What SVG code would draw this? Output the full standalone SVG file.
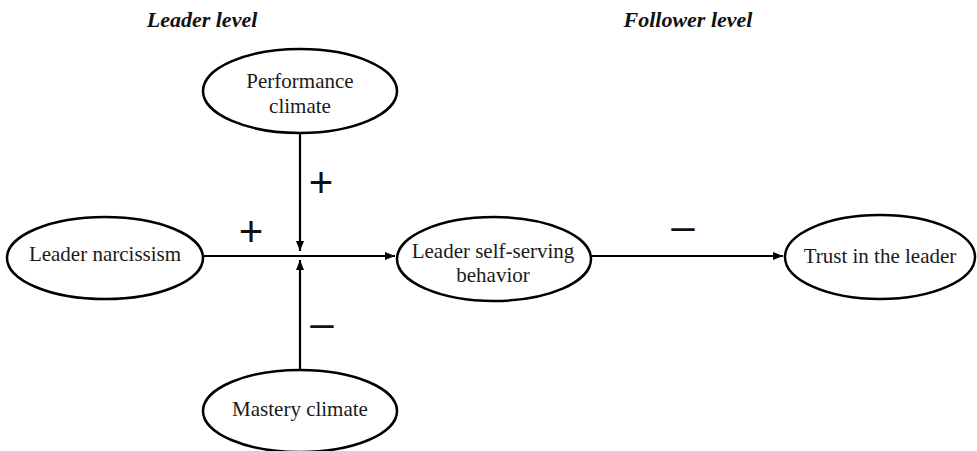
<svg xmlns="http://www.w3.org/2000/svg" width="977" height="451" viewBox="0 0 977 451">
<style>
.node ellipse{fill:#fff;stroke:#000;stroke-width:2.5}
.lbl{font-family:'Liberation Serif','Times New Roman',Tinos,'DejaVu Serif',serif;font-size:21px;fill:#1a1a1a;text-anchor:middle}
.head{font-family:'Liberation Serif','Times New Roman',Tinos,'DejaVu Serif',serif;font-size:22px;font-weight:bold;font-style:italic;fill:#111;text-anchor:middle}
.sign{font-family:'Liberation Sans',Arial,sans-serif;font-size:42px;fill:#111;text-anchor:middle}
#connectors line{stroke:#000;stroke-width:2.2;fill:none}
</style>
<defs>
<marker id="arr" viewBox="0 0 10 10" refX="10" refY="5" markerWidth="10" markerHeight="10" markerUnits="userSpaceOnUse" orient="auto">
<path d="M0,1 L10,5 L0,9 Z" fill="#000"/>
</marker>
</defs>
<rect width="977" height="451" fill="#fff"/>
<text class="head" x="202" y="27">Leader level</text>
<text class="head" x="688" y="27">Follower level</text>
<g id="connectors">
<line x1="203" y1="256" x2="395" y2="256" marker-end="url(#arr)"/>
<line x1="300" y1="132" x2="300" y2="251" marker-end="url(#arr)"/>
<line x1="300" y1="370" x2="300" y2="260" marker-end="url(#arr)"/>
<line x1="592" y1="256" x2="783" y2="256" marker-end="url(#arr)"/>
<text class="sign" x="321" y="197">+</text>
<text class="sign" x="251" y="246">+</text>
<text class="sign" x="322" y="337">–</text>
<text class="sign" x="683" y="240">–</text>
</g>
<g id="performance" class="node">
<ellipse cx="300" cy="91" rx="97" ry="42"/>
<text class="lbl" x="300" y="88">Performance</text>
<text class="lbl" x="300" y="113">climate</text>
</g>
<g id="narcissism" class="node">
<ellipse cx="105" cy="258" rx="98" ry="41"/>
<text class="lbl" x="105" y="261">Leader narcissism</text>
</g>
<g id="selfserving" class="node">
<ellipse cx="494" cy="259" rx="97" ry="42"/>
<text class="lbl" x="493" y="258">Leader self-serving</text>
<text class="lbl" x="493" y="282">behavior</text>
</g>
<g id="trust" class="node">
<ellipse cx="880" cy="257" rx="95" ry="42"/>
<text class="lbl" x="880" y="263">Trust in the leader</text>
</g>
<g id="mastery" class="node">
<ellipse cx="300" cy="411" rx="97" ry="41"/>
<text class="lbl" x="300" y="416">Mastery climate</text>
</g>
</svg>
